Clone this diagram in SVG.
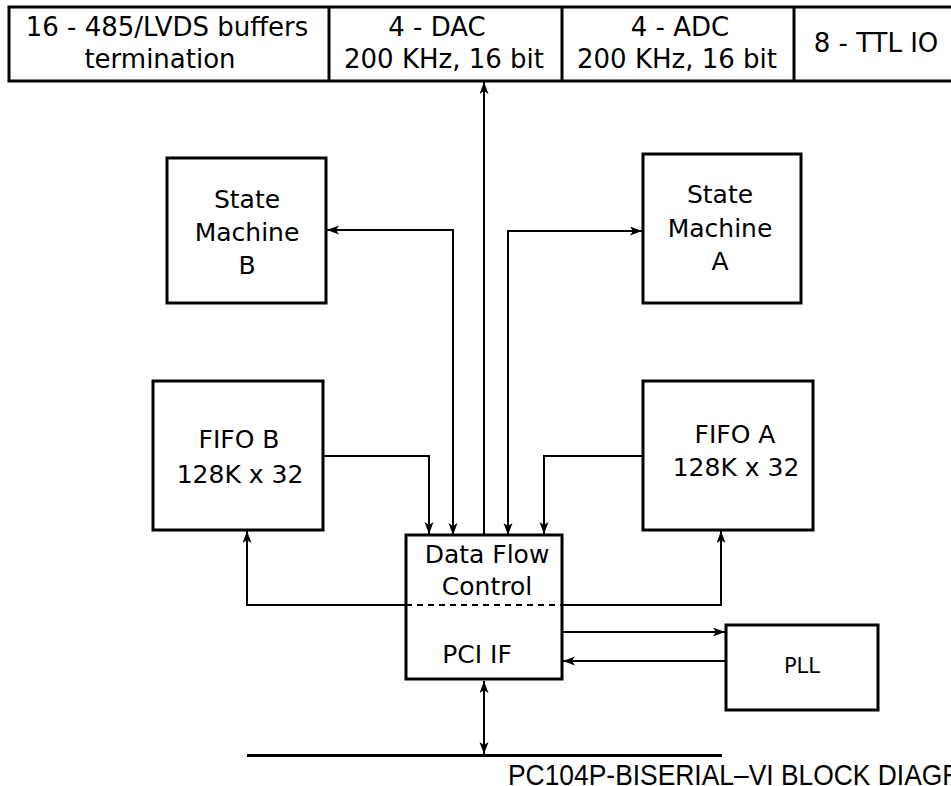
<svg xmlns="http://www.w3.org/2000/svg" width="951" height="786" viewBox="0 0 951 786">
<style>
  .box { fill: #fff; stroke: #000; stroke-width: 3; }
  .t { font-family: "DejaVu Sans", sans-serif; font-size: 25px; fill: #000; text-anchor: middle; }
  .tt { font-family: "DejaVu Sans", sans-serif; font-size: 26px; fill: #000; text-anchor: middle; }
  .small { font-family: "DejaVu Sans", sans-serif; font-size: 21px; fill: #000; text-anchor: middle; }
  .c { fill: none; stroke: #000; stroke-width: 2; }
  .cap { font-family: "Liberation Sans", Arial, sans-serif; font-size: 30px; fill: #000; }
</style>
<defs>
  <marker id="ah" markerUnits="userSpaceOnUse" markerWidth="14" markerHeight="10" refX="12" refY="4.5" orient="auto-start-reverse">
    <path d="M0,0 L12,4.5 L0,9 L3,4.5 z" fill="#000"/>
  </marker>
</defs>
<rect width="951" height="786" fill="#fff"/>

<g id="top-bar">
  <rect class="box" x="9" y="7" width="960" height="74"/>
  <line x1="329" y1="7" x2="329" y2="81" stroke="#000" stroke-width="3"/>
  <line x1="562" y1="7" x2="562" y2="81" stroke="#000" stroke-width="3"/>
  <line x1="794" y1="7" x2="794" y2="81" stroke="#000" stroke-width="3"/>
  <g id="buffers">
    <text class="tt" x="167" y="36">16 - 485/LVDS buffers</text>
    <text class="tt" x="160" y="68">termination</text>
  </g>
  <g id="dac">
    <text class="tt" x="437" y="36">4 - DAC</text>
    <text class="tt" x="444" y="68">200 KHz, 16 bit</text>
  </g>
  <g id="adc">
    <text class="tt" x="680" y="36">4 - ADC</text>
    <text class="tt" x="677" y="68">200 KHz, 16 bit</text>
  </g>
  <g id="ttl">
    <text class="tt" x="876" y="52">8 - TTL IO</text>
  </g>
</g>

<g id="state-machine-b">
  <rect class="box" x="167" y="158" width="159" height="145"/>
  <text class="t" x="247" y="208">State</text>
  <text class="t" x="247" y="241">Machine</text>
  <text class="t" x="247" y="274">B</text>
</g>

<g id="state-machine-a">
  <rect class="box" x="643" y="154" width="158" height="149"/>
  <text class="t" x="720" y="203">State</text>
  <text class="t" x="720" y="237">Machine</text>
  <text class="t" x="720" y="270">A</text>
</g>

<g id="fifo-b">
  <rect class="box" x="153" y="381" width="170" height="149"/>
  <text class="t" x="239" y="448">FIFO B</text>
  <text class="t" x="240" y="483">128K x 32</text>
</g>

<g id="fifo-a">
  <rect class="box" x="643" y="381" width="170" height="149"/>
  <text class="t" x="735" y="443">FIFO A</text>
  <text class="t" x="736" y="476">128K x 32</text>
</g>

<g id="data-flow-control">
  <rect class="box" x="406" y="535" width="156" height="144"/>
  <line x1="406" y1="605" x2="562" y2="605" stroke="#000" stroke-width="2" stroke-dasharray="6,5"/>
  <text class="t" x="487" y="563">Data Flow</text>
  <text class="t" x="487" y="595">Control</text>
  <text class="t" x="477" y="663">PCI IF</text>
</g>

<g id="pll">
  <rect class="box" x="726" y="625" width="152" height="85"/>
  <text class="small" x="802" y="673">PLL</text>
</g>

<g id="connectors">
  <path class="c" d="M484,535 V82" marker-end="url(#ah)"/>
  <path class="c" d="M453,535 V230 H327" marker-start="url(#ah)" marker-end="url(#ah)"/>
  <path class="c" d="M508,535 V231 H642" marker-start="url(#ah)" marker-end="url(#ah)"/>
  <path class="c" d="M324,456 H429 V534" marker-end="url(#ah)"/>
  <path class="c" d="M642,456 H544 V534" marker-end="url(#ah)"/>
  <path class="c" d="M406,605 H247 V531" marker-end="url(#ah)"/>
  <path class="c" d="M562,605 H721 V531" marker-end="url(#ah)"/>
  <path class="c" d="M563,632 H725" marker-end="url(#ah)"/>
  <path class="c" d="M725,661 H563" marker-end="url(#ah)"/>
  <path class="c" d="M484,681 V754" marker-start="url(#ah)" marker-end="url(#ah)"/>
  <line x1="247" y1="755.5" x2="722" y2="755.5" stroke="#000" stroke-width="3"/>
</g>

<text class="cap" x="508" y="785" textLength="493" lengthAdjust="spacingAndGlyphs">PC104P-BISERIAL–VI BLOCK DIAGRAM</text>
</svg>
